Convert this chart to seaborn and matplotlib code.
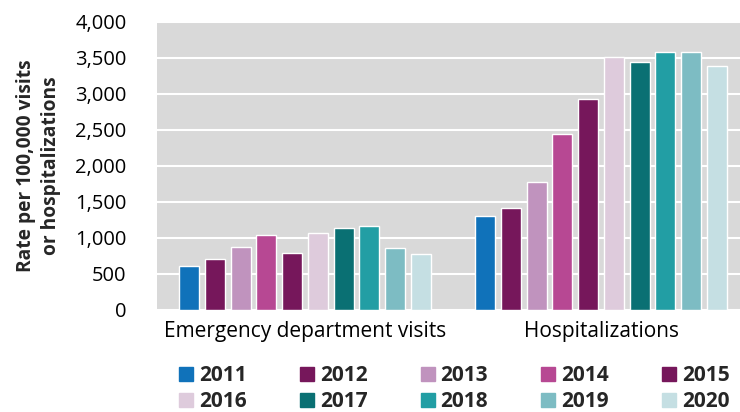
import pandas as pd
import matplotlib.pyplot as plt
import matplotlib.patches as mpatches
from matplotlib.ticker import FuncFormatter
import seaborn as sns

# Values
settings = ['Emergency department visits', 'Hospitalizations']
years = ['2011', '2012', '2013', '2014', '2015', '2016', '2017', '2018', '2019', '2020']
ed_rates = [609, 698, 865, 1032, 782, 1060, 1130, 1166, 851, 772]
hosp_rates = [1305, 1408, 1774, 2442, 2924, 3513, 3439, 3587, 3587, 3392]
colors = ['#1072BA', '#76175B', '#C093BE', '#B74893', '#76175B',
          '#DECBDC', '#0A7073', '#229EA4', '#7DBCC3', '#C5DFE3']

df = pd.DataFrame({
    'setting': [settings[0]] * len(years) + [settings[1]] * len(years),
    'year': years + years,
    'rate': ed_rates + hosp_rates,
})

sns.set_style('white')
plt.rcParams['font.family'] = ['Open Sans', 'DejaVu Sans']

fig = plt.figure(figsize=(7.4, 4.12), dpi=100)
ax = fig.add_axes([157 / 740, 1 - 309.5 / 412, 592 / 740, 287.5 / 412])
ax.set_facecolor('#D9D9D9')

sns.barplot(data=df, x='setting', y='rate', hue='year', hue_order=years,
            palette=colors, saturation=1, width=0.87, gap=0.22,
            legend=False, ax=ax)

ax.set_ylim(0, 4000)
ax.set_yticks(range(0, 4001, 500))
ax.yaxis.set_major_formatter(FuncFormatter(lambda v, p: f'{int(v):,}'))
ax.grid(axis='y', color='white', linewidth=1.5)
ax.set_axisbelow(True)
for s in ax.spines.values():
    s.set_visible(False)
ax.tick_params(axis='both', length=0, colors='black')
ax.tick_params(axis='x', pad=8, labelsize=15)
ax.tick_params(axis='y', pad=22, labelsize=14.5)
ax.set_xlabel('')
ax.set_ylabel('Rate per 100,000 visits\nor hospitalizations', fontsize=13.8,
              fontweight='bold', labelpad=10, linespacing=1.35)

# legend fills column by column, so interleave to get years along rows
handles = [mpatches.Patch(color=c, label=y) for c, y in zip(colors, years)]
ordered = [handles[i + r * 5] for i in range(5) for r in range(2)]
fig.legend(handles=ordered, ncol=5, loc='upper left',
           bbox_to_anchor=(179 / 740, 1 - 365 / 412), frameon=False,
           prop={'weight': 'bold', 'size': 15}, handlelength=0.67,
           handleheight=0.67, handletextpad=0.29, columnspacing=2.55,
           labelspacing=0.25, borderaxespad=0, borderpad=0)

fig.savefig('out.png', dpi=100)
